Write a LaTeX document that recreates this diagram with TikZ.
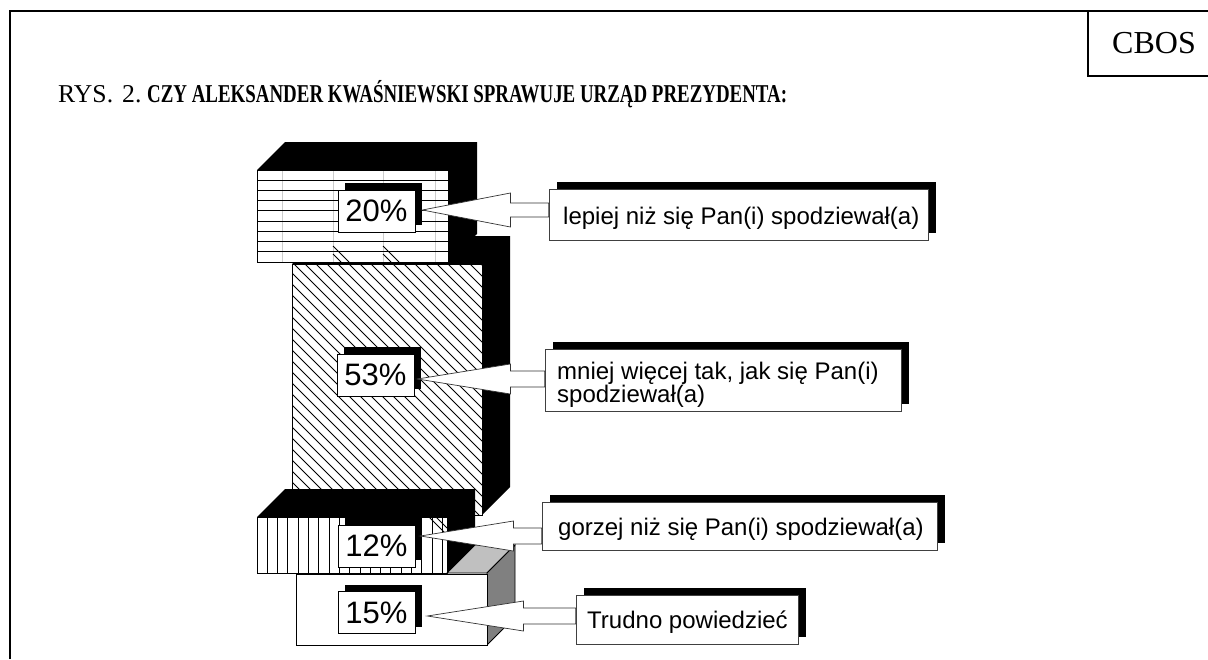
\documentclass[tikz,border=0pt]{standalone}
\usepackage{fontspec}
\usepackage{graphicx}
\setmainfont{Liberation Serif}
\newfontfamily\arialf{Liberation Sans}
\usetikzlibrary{shadows,calc}
\definecolor{topgray}{RGB}{192,192,192}
\definecolor{sidegray}{RGB}{128,128,128}
\newcommand\blockarr[5]{%
  \draw[barr] #1 -- ++(#3,-#4) -- ++(0,#4-#5) coordinate (sa) -- (sa -| #2.west) -- ++(0,2*#5) -- ($(sa)+(0,2*#5)$) -- ++(0,#4-#5) -- cycle;}
\begin{document}
\begin{tikzpicture}[x=1pt,y=-1pt,
  face/.style={draw=black,line width=0.9pt},
  hatch/.style={line width=0.9pt},
  pbox/.style={draw=black,fill=white,line width=0.8pt,minimum width=77pt,minimum height=42pt,inner sep=0pt,font=\arialf\fontsize{31}{31}\selectfont,general shadow={fill=black,shadow xshift=7pt,shadow yshift=7pt}},
  lbox/.style={draw=black!75,fill=white,line width=0.8pt,inner sep=0pt,general shadow={fill=black,shadow xshift=8pt,shadow yshift=7pt}},
  ltext/.style={anchor=base west,inner sep=0pt,font=\arialf\fontsize{24}{23}\selectfont,align=left},
  barr/.style={draw=black!80,fill=white,line width=0.7pt,line join=miter},
  ttl/.style={anchor=base west,inner sep=0pt,font=\fontsize{25.7}{26}\selectfont}]
\useasboundingbox (0,0) rectangle (1208,659);
\fill[white] (0,0) rectangle (1208,659);
% frame
\draw[line width=2.7pt] (10,659) -- (10,11) -- (1208,11);
\draw[line width=2.7pt] (1088,11) -- (1088,76) -- (1208,76);
\node[anchor=base west,inner sep=0pt,font=\fontsize{32}{32}\selectfont] (cbos) at (1112,53) {CBOS};
% title
\node[ttl] (rys) at (58,102) {RYS.};
\node[ttl] (num) at (122,102) {2.};
\node[ttl] (title) at (147,102) {\resizebox{640pt}{\height}{\bfseries CZY ALEKSANDER KWAŚNIEWSKI SPRAWUJE URZĄD PREZYDENTA:}};
% ---- block 3 (12%)
\fill (257,517) -- (285,489) -- (475,489) -- (475,545) -- (447,573) -- (447,517) -- cycle;
\begin{scope}
\clip (257,517) rectangle (447,573);
\foreach \i in {0,...,18} \draw[hatch] ({257+10.3*\i},517) -- ({257+10.3*\i},573);
\draw[hatch] (429,517) -- (445,533);
\draw[hatch] (436,517) -- (447,528);
\end{scope}
\draw[face] (257,517) rectangle (447,573);
% ---- block 4 (15%)
\filldraw[fill=topgray,draw=black,line width=0.8pt] (447,573) -- (475,545) -- (515,545) -- (487,573) -- cycle;
\filldraw[fill=sidegray,draw=black,line width=0.8pt] (487,573) -- (515,545) -- (515,617) -- (487,645) -- cycle;
\filldraw[face,fill=white] (296,574) rectangle (487,645);
% ---- block 2 (53%)
\fill (292,264) -- (320,236) -- (510,236) -- (510,487) -- (482,515) -- (482,264) -- cycle;
\begin{scope}
\clip (292,264) rectangle (482,515);
\foreach \i in {0,...,41} \draw[hatch] ({41+11*\i},264) -- ++(251,251);
\end{scope}
\draw[face] (292,264) rectangle (482,515);
% ---- block 1 (20%)
\fill (257,170) -- (285,142) -- (477,142) -- (477,234) -- (448,262) -- (448,170) -- cycle;
\begin{scope}
\clip (257,170) rectangle (448,262);
\fill[white] (257,170) rectangle (448,262);
\foreach \x in {282,333,383,435} \draw[gray!40,line width=0.5pt] (\x,170) -- (\x,262);
\foreach \i in {0,...,9} \draw[hatch] (257,{170+92/9*\i}) -- (448,{170+92/9*\i});
\draw[hatch] (333,246) -- (349,262);
\draw[hatch] (333,254) -- (341,262);
\draw[hatch] (383,246) -- (399,262);
\draw[hatch] (383,254) -- (391,262);
\end{scope}
\draw[face] (257,170) rectangle (448,262);
% ---- percent boxes
\node[pbox] (p20) at (376.5,211) {20\%};
\node[pbox] (p53) at (375.5,375) {53\%};
\node[pbox] (p12) at (376.5,546) {12\%};
\node[pbox] (p15) at (376.5,612.5) {15\%};
% ---- label boxes
\node[lbox,minimum width=379pt,minimum height=51pt] (l20) at (738.5,214.5) {};
\node[lbox,minimum width=356pt,minimum height=62pt] (l53) at (723,380) {};
\node[lbox,minimum width=395pt,minimum height=48pt] (l12) at (739.5,526) {};
\node[lbox,minimum width=222pt,minimum height=49pt] (l15) at (687,619.5) {};
\node[ltext] (t20) at (563,224) {lepiej niż się Pan(i) spodziewał(a)};
\node[ltext] (t53) at (557,402) {mniej więcej tak, jak się Pan(i)\\spodziewał(a)};
\node[ltext] (t12) at (558,535) {gorzej niż się Pan(i) spodziewał(a)};
\node[ltext] (t15) at (587,628) {Trudno powiedzieć};
% ---- block arrows
\blockarr{($(p20.east)+(7,-1)$)}{l20}{88}{17}{7}
\blockarr{($(p53.east)+(3,4)$)}{l53}{93}{15}{8}
\blockarr{($(p12.east)+(5,-10)$)}{l12}{93}{15}{8}
\blockarr{($(p15.east)+(12,3.5)$)}{l15}{96}{15}{8}
\end{tikzpicture}
\end{document}
